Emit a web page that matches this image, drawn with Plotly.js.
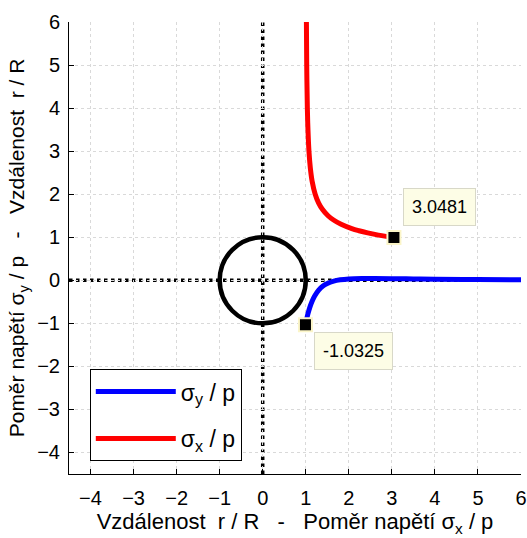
<!DOCTYPE html>
<html>
<head>
<meta charset="utf-8">
<script src="https://cdn.plot.ly/plotly-3.0.1.min.js"></script>
<style>html,body{margin:0;padding:0;background:#fff;}#plot{width:527px;height:538px;}</style>
</head>
<body>
<div id="plot"></div>
<script>
// r / R samples
var rRed  = [0.993, 1.02, 1.05, 1.1, 1.15, 1.2, 1.3, 1.4, 1.5, 1.65, 1.8, 2.0, 2.3, 2.6, 3.0, 3.5, 4.0, 5.0, 6.0];
var sigmaX = [3.0481, 2.866, 2.688, 2.438, 2.236, 2.070, 1.821, 1.646, 1.518, 1.386, 1.297, 1.219, 1.148, 1.107, 1.074, 1.051, 1.037, 1.022, 1.015];
var rBlue = [0.993, 1.02, 1.05, 1.1, 1.15, 1.2, 1.3, 1.4, 1.5, 1.65, 1.8, 2.0, 2.3, 2.6, 3.0, 3.5, 4.0, 5.0, 6.0];
var sigmaY = [-1.0325, -0.905, -0.780, -0.611, -0.480, -0.376, -0.229, -0.135, -0.074, -0.019, 0.011, 0.031, 0.041, 0.041, 0.037, 0.031, 0.025, 0.018, 0.013];
// data tips
var tipX = [3.0481, 0.993];
var tipY = [0.993, -1.0325];
var tipLabels = ["3.0481", "-1.0325"];
var holeRadius = 1;
var tickVals = [-4, -3, -2, -1, 0, 1, 2, 3, 4, 5, 6];
var axisRange = [-4.5, 6];

var font = "Liberation Sans, Arial, sans-serif";

var traces = [
  {x: rBlue, y: sigmaY, mode: 'lines', name: 'σ<sub>y</sub> / p', legendgroup: 'a', line: {color: '#0000ff', width: 5, shape: 'spline'}},
  {x: sigmaX, y: rRed, mode: 'lines', name: 'σ<sub>x</sub> / p', legendgroup: 'b', line: {color: '#ff0000', width: 5, shape: 'spline'}},
  {x: tipX, y: tipY, mode: 'markers', showlegend: false,
   marker: {symbol: 'square', size: 13, color: '#000', line: {color: '#fbf5c8', width: 2}}}
];

var layout = {
  width: 527, height: 538,
  margin: {l: 69, r: 6, t: 22, b: 64},
  paper_bgcolor: '#fff', plot_bgcolor: '#fff',
  font: {family: font, color: '#000', size: 20},
  showlegend: true,
  legend: {x: 0.046, y: 0.232, xanchor: 'left', yanchor: 'top', bgcolor: '#fff',
           bordercolor: '#000', borderwidth: 1, font: {size: 23, family: font},
           itemwidth: 80, tracegroupgap: 14},
  xaxis: {range: axisRange, tickvals: tickVals, ticks: 'inside', ticklen: 5, tickcolor: '#000',
          showline: true, linecolor: '#000', linewidth: 1, mirror: false,
          showgrid: true, gridcolor: '#d9d9d9', griddash: 'dot', gridwidth: 1, zeroline: false,
          tickfont: {size: 20, family: font}, ticklabelstandoff: 6,
          title: {text: 'Vzdálenost  r / R   -   Poměr napětí σ<sub>x</sub> / p', font: {size: 22, family: font}, standoff: 4}},
  yaxis: {range: axisRange, tickvals: tickVals, ticks: 'inside', ticklen: 5, tickcolor: '#000',
          showline: true, linecolor: '#000', linewidth: 1, mirror: false,
          showgrid: true, gridcolor: '#d9d9d9', griddash: 'dot', gridwidth: 1, zeroline: false,
          tickfont: {size: 20, family: font}, ticklabelstandoff: 4,
          title: {text: 'Poměr napětí σ<sub>y</sub> / p   -   Vzdálenost  r / R', font: {size: 21, family: font}, standoff: 6}},
  shapes: [
    {type: 'line', xref: 'x', yref: 'paper', x0: 0, x1: 0, y0: 0, y1: 1, line: {color: '#000', width: 3.5, dash: 'dot'}, layer: 'below'},
    {type: 'line', xref: 'paper', yref: 'y', x0: 0, x1: 1, y0: 0, y1: 0, line: {color: '#000', width: 3.5, dash: 'dot'}, layer: 'below'},
    {type: 'circle', xref: 'x', yref: 'y', x0: -holeRadius, y0: -holeRadius, x1: holeRadius, y1: holeRadius, line: {color: '#000', width: 4.5}}
  ],
  annotations: [
    {x: tipX[0], y: tipY[0], xref: 'x', yref: 'y', text: tipLabels[0], showarrow: false,
     xanchor: 'left', yanchor: 'bottom', xshift: 9, yshift: 12, bgcolor: '#fdfde6', bordercolor: '#d8d8c8',
     borderwidth: 1, borderpad: 8, font: {size: 18, family: font}},
    {x: tipX[1], y: tipY[1], xref: 'x', yref: 'y', text: tipLabels[1], showarrow: false,
     xanchor: 'left', yanchor: 'top', xshift: 9, yshift: -7, bgcolor: '#fdfde6', bordercolor: '#d8d8c8',
     borderwidth: 1, borderpad: 8, font: {size: 18, family: font}}
  ]
};

Plotly.newPlot('plot', traces, layout, {displayModeBar: false, staticPlot: true});
</script>
</body>
</html>
